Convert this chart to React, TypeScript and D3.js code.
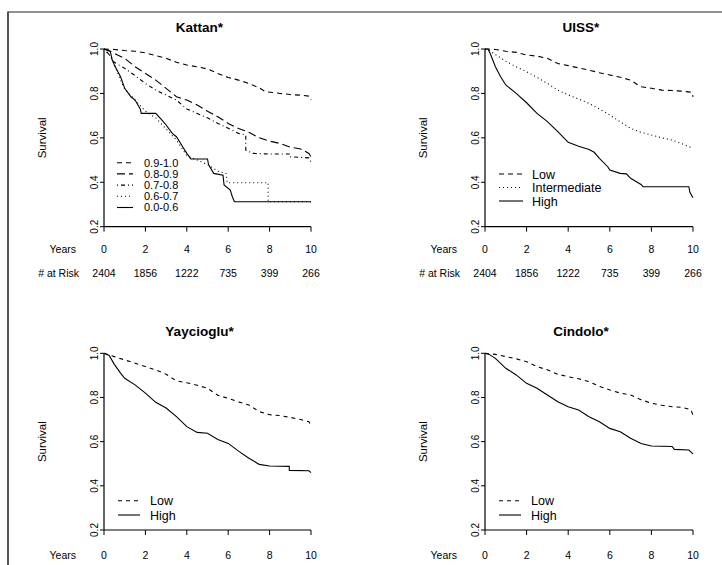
import * as d3 from 'd3'

type Pt = [number, number]

// ---- data ----
const YEAR_TICKS = [0, 2, 4, 6, 8, 10]
const SURV_TICKS = [0.2, 0.4, 0.6, 0.8, 1.0]
const AT_RISK = [2404, 1856, 1222, 735, 399, 266]

const KATTAN_90_100: Pt[] = [[0,1],[0.5,0.998],[1,0.993],[1.5,0.99],[2,0.983],[2.5,0.97],[3,0.958],[3.5,0.94],[4,0.928],[4.5,0.92],[5,0.91],[5.5,0.89],[6,0.872],[6.5,0.86],[7,0.845],[7.5,0.825],[7.8,0.808],[8.5,0.8],[9,0.795],[9.5,0.792],[9.9,0.788],[10,0.77]]
const KATTAN_80_90: Pt[] = [[0,1],[0.3,0.99],[0.5,0.98],[1,0.958],[1.5,0.92],[2,0.89],[2.5,0.86],[3,0.823],[3.5,0.785],[4,0.77],[4.5,0.748],[5,0.72],[5.5,0.695],[6,0.665],[6.5,0.642],[7,0.625],[7.5,0.6],[8,0.585],[8.5,0.575],[9,0.558],[9.5,0.55],[9.9,0.53],[10,0.515]]
const KATTAN_70_80: Pt[] = [[0,1],[0.3,0.97],[0.5,0.94],[1,0.913],[1.5,0.88],[2,0.845],[2.5,0.815],[3,0.793],[3.5,0.77],[4,0.73],[4.5,0.71],[5,0.69],[5.5,0.665],[6,0.643],[6.5,0.62],[6.85,0.613],[6.85,0.545],[7.2,0.53],[8,0.527],[8.95,0.527],[8.95,0.515],[9.9,0.51],[10,0.49]]
const KATTAN_60_70: Pt[] = [[0,1],[0.3,0.97],[0.5,0.93],[0.8,0.86],[1,0.82],[1.5,0.77],[2,0.72],[2.5,0.69],[3,0.64],[3.5,0.59],[4,0.52],[4.5,0.5],[5,0.48],[5.5,0.45],[5.9,0.44],[5.95,0.398],[7.93,0.398],[7.93,0.312],[10,0.312]]
const KATTAN_00_60: Pt[] = [[0,1],[0.3,0.99],[0.4,0.95],[0.5,0.928],[0.8,0.875],[1,0.823],[1.3,0.785],[1.5,0.77],[1.75,0.73],[1.8,0.71],[2.5,0.71],[2.8,0.68],[3,0.658],[3.3,0.62],[3.5,0.605],[3.8,0.56],[4,0.53],[4.2,0.505],[5,0.505],[5.05,0.48],[5.3,0.44],[5.75,0.432],[5.8,0.388],[6.1,0.365],[6.2,0.335],[6.3,0.312],[10,0.312]]

const UISS_LOW: Pt[] = [[0,1],[0.5,0.998],[1,0.99],[1.5,0.985],[2,0.973],[2.5,0.968],[3,0.958],[3.5,0.935],[4,0.925],[4.5,0.915],[5,0.905],[5.5,0.893],[6,0.883],[6.5,0.873],[7,0.86],[7.4,0.835],[7.5,0.83],[8,0.823],[8.5,0.815],[9,0.813],[9.5,0.81],[9.95,0.805],[10,0.785]]
const UISS_INT: Pt[] = [[0,1],[0.25,0.99],[0.5,0.975],[1,0.945],[1.5,0.92],[2,0.898],[2.5,0.872],[3,0.845],[3.5,0.815],[4,0.793],[4.5,0.775],[5,0.755],[5.5,0.73],[6,0.703],[6.5,0.672],[7,0.643],[7.5,0.625],[8,0.613],[8.5,0.6],[9,0.59],[9.5,0.572],[10,0.553]]
const UISS_HIGH: Pt[] = [[0,1],[0.15,1],[0.25,0.98],[0.5,0.92],[0.75,0.875],[1,0.838],[1.5,0.8],[2,0.758],[2.5,0.71],[3,0.673],[3.5,0.628],[4,0.58],[4.5,0.562],[5,0.548],[5.25,0.535],[5.5,0.508],[5.9,0.47],[6,0.455],[6.5,0.44],[6.8,0.438],[7,0.418],[7.5,0.39],[7.6,0.38],[9.8,0.38],[9.85,0.355],[10,0.33]]

const YAY_LOW: Pt[] = [[0,1],[0.5,0.985],[1,0.97],[1.5,0.955],[2,0.94],[2.5,0.925],[3,0.905],[3.5,0.875],[4,0.867],[4.5,0.855],[5,0.842],[5.5,0.81],[6,0.796],[6.5,0.78],[7,0.766],[7.5,0.736],[8,0.722],[8.5,0.718],[9,0.71],[9.5,0.7],[9.9,0.69],[10,0.672]]
const YAY_HIGH: Pt[] = [[0,1],[0.25,0.99],[0.5,0.95],[0.8,0.91],[1,0.887],[1.5,0.857],[2,0.82],[2.5,0.778],[3,0.752],[3.5,0.713],[4,0.668],[4.5,0.642],[5,0.638],[5.5,0.61],[6,0.592],[6.5,0.557],[7,0.525],[7.5,0.497],[8,0.49],[8.95,0.488],[8.95,0.47],[9.9,0.468],[10,0.46]]

const CIN_LOW: Pt[] = [[0,1],[0.5,0.995],[1,0.985],[1.5,0.975],[2,0.962],[2.5,0.94],[3,0.925],[3.5,0.905],[4,0.894],[4.5,0.885],[5,0.872],[5.5,0.85],[6,0.834],[6.5,0.82],[7,0.811],[7.5,0.79],[8,0.774],[8.5,0.765],[9,0.758],[9.5,0.755],[9.9,0.745],[10,0.72]]
const CIN_HIGH: Pt[] = [[0,1],[0.2,0.995],[0.5,0.977],[1,0.932],[1.5,0.902],[2,0.864],[2.5,0.842],[3,0.811],[3.5,0.781],[4,0.758],[4.5,0.743],[5,0.713],[5.5,0.69],[6,0.66],[6.5,0.645],[7,0.615],[7.5,0.592],[8,0.58],[9,0.578],[9.1,0.565],[9.8,0.562],[10,0.545]]

const FONT = '"Liberation Sans", Arial, Helvetica, sans-serif'

const DASH = {
  short: '5,4',
  long: '8,4',
  dotdash: '1,3,4,3',
  dot: '1,3',
  solid: '',
}

const PANELS = [
  {
    title: 'Kattan*', x0: 104, x1: 311, yTop: 49, yBot: 226.7, risk: true, yearsDy: 26.5,
    legend: { dx: 13, len: 16, tx: 40, dy: 113.7, gap: 11.2, size: 11 },
    series: [
      { name: '0.9-1.0', data: KATTAN_90_100, dash: DASH.short },
      { name: '0.8-0.9', data: KATTAN_80_90, dash: DASH.long },
      { name: '0.7-0.8', data: KATTAN_70_80, dash: DASH.dotdash },
      { name: '0.6-0.7', data: KATTAN_60_70, dash: DASH.dot },
      { name: '0.0-0.6', data: KATTAN_00_60, dash: DASH.solid },
    ],
  },
  {
    title: 'UISS*', x0: 485, x1: 693, yTop: 49, yBot: 226.7, risk: true, yearsDy: 26.5,
    legend: { dx: 14, len: 24, tx: 47, dy: 125, gap: 13.5, size: 12.5 },
    series: [
      { name: 'Low', data: UISS_LOW, dash: DASH.short },
      { name: 'Intermediate', data: UISS_INT, dash: DASH.dot },
      { name: 'High', data: UISS_HIGH, dash: DASH.solid },
    ],
  },
  {
    title: 'Yaycioglu*', x0: 104, x1: 311, yTop: 353.3, yBot: 530, risk: false, yearsDy: 28.5,
    legend: { dx: 14, len: 22, tx: 46, dy: 147.4, gap: 14.3, size: 12.5 },
    series: [
      { name: 'Low', data: YAY_LOW, dash: '4,4' },
      { name: 'High', data: YAY_HIGH, dash: DASH.solid },
    ],
  },
  {
    title: 'Cindolo*', x0: 485, x1: 693, yTop: 353.3, yBot: 530, risk: false, yearsDy: 28.5,
    legend: { dx: 14, len: 22, tx: 46, dy: 147.4, gap: 14.3, size: 12.5 },
    series: [
      { name: 'Low', data: CIN_LOW, dash: '4,4' },
      { name: 'High', data: CIN_HIGH, dash: DASH.solid },
    ],
  },
]

function Panel({ p }: { p: typeof PANELS[number] }) {
  const x = d3.scaleLinear().domain([0, 10]).range([p.x0, p.x1])
  const y = d3.scaleLinear().domain([0.2, 1.0]).range([p.yBot, p.yTop])
  const line = d3.line<Pt>().x(d => x(d[0])).y(d => y(d[1]))
  const midY = (p.yTop + p.yBot) / 2
  const lg = p.legend

  return (
    <g>
      <text x={(p.x0 + p.x1) / 2 - 8} y={p.yTop - 17} textAnchor="middle"
        fontSize={13.5} fontWeight="bold">{p.title}</text>

      {/* y axis */}
      <line x1={p.x0} x2={p.x0} y1={y(1)} y2={y(0.2)} stroke="#000" strokeWidth={1.2} />
      {SURV_TICKS.map(t => (
        <g key={t}>
          <line x1={p.x0 - 4} x2={p.x0} y1={y(t)} y2={y(t)} stroke="#000" />
          <text transform={`translate(${p.x0 - 6},${y(t)}) rotate(-90)`} textAnchor="middle"
            fontSize={10}>{t.toFixed(1)}</text>
        </g>
      ))}
      <text transform={`translate(${p.x0 - 58},${midY}) rotate(-90)`} textAnchor="middle"
        fontSize={11.5}>Survival</text>

      {/* x axis */}
      <line x1={x(0)} x2={x(10)} y1={p.yBot} y2={p.yBot} stroke="#000" strokeWidth={1.2} />
      {YEAR_TICKS.map((t, i) => (
        <g key={t}>
          <line x1={x(t)} x2={x(t)} y1={p.yBot} y2={p.yBot + 5} stroke="#000" />
          <text x={x(t)} y={p.yBot + p.yearsDy} textAnchor="middle" fontSize={10.5}>{t}</text>
          {p.risk && (
            <text x={x(t)} y={p.yBot + p.yearsDy + 24} textAnchor="middle" fontSize={10.5}>{AT_RISK[i]}</text>
          )}
        </g>
      ))}
      <text x={p.x0 - 28} y={p.yBot + p.yearsDy} textAnchor="end" fontSize={10.5}>Years</text>
      {p.risk && (
        <text x={p.x0 - 25} y={p.yBot + p.yearsDy + 24} textAnchor="end" fontSize={10.5}># at Risk</text>
      )}

      {/* curves */}
      {p.series.map(s => (
        <path key={s.name} d={line(s.data) ?? ''} fill="none" stroke="#000" strokeWidth={1.1}
          strokeDasharray={s.dash || undefined} />
      ))}

      {/* legend */}
      {p.series.map((s, i) => {
        const ly = p.yTop + lg.dy + i * lg.gap
        return (
          <g key={s.name}>
            <line x1={p.x0 + lg.dx} x2={p.x0 + lg.dx + lg.len} y1={ly} y2={ly} stroke="#000"
              strokeWidth={1.1} strokeDasharray={s.dash || undefined} />
            <text x={p.x0 + lg.tx} y={ly + lg.size * 0.36} fontSize={lg.size}>{s.name}</text>
          </g>
        )
      })}
    </g>
  )
}

export default function App() {
  return (
    <svg width={722} height={565} fontFamily={FONT}
      style={{ position: 'absolute', left: 0, top: 0, background: '#fff' }}>
      <rect width={722} height={565} fill="#fff" />
      <line x1={8} x2={722} y1={12} y2={12} stroke="#222" strokeWidth={1} />
      <line x1={8} x2={8} y1={11.5} y2={565} stroke="#555" strokeWidth={2} />
      {PANELS.map(p => <Panel key={p.title} p={p} />)}
    </svg>
  )
}
